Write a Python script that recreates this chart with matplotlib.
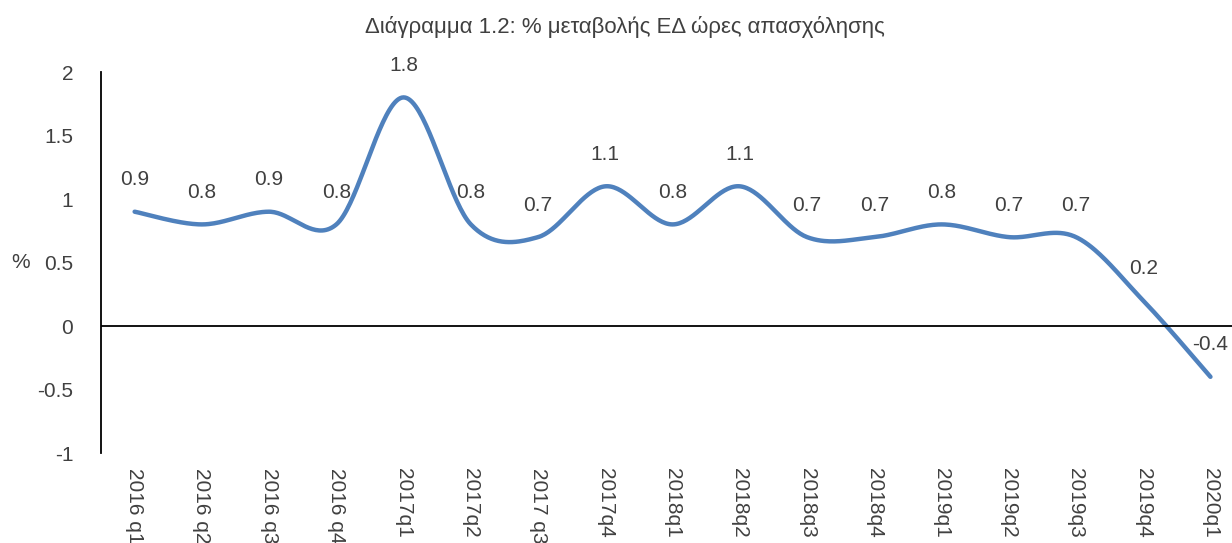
import matplotlib
matplotlib.use("Agg")
import matplotlib.pyplot as plt
import numpy as np

# quarters and % change in total hours worked
quarters = ["2016 q1", "2016 q2", "2016 q3", "2016 q4", "2017q1", "2017q2", "2017 q3",
            "2017q4", "2018q1", "2018q2", "2018q3", "2018q4", "2019q1", "2019q2",
            "2019q3", "2019q4", "2020q1"]
values = [0.9, 0.8, 0.9, 0.8, 1.8, 0.8, 0.7, 1.1, 0.8, 1.1, 0.7, 0.7, 0.8, 0.7, 0.7, 0.2, -0.4]

title = "Διάγραμμα 1.2: % μεταβολής ΕΔ ώρες απασχόλησης"


def smooth(x, y, n=40):
    # excel-like smoothed line: cubic bezier, control points from neighbours
    x = np.asarray(x, float)
    y = np.asarray(y, float)
    px = np.concatenate([[x[0]], x, [x[-1]]])
    py = np.concatenate([[y[0]], y, [y[-1]]])
    t = np.linspace(0, 1, n)[:, None]
    xs, ys = [], []
    for i in range(len(x) - 1):
        p0 = np.array([x[i], y[i]])
        p3 = np.array([x[i + 1], y[i + 1]])
        p1 = p0 + (np.array([px[i + 2], py[i + 2]]) - np.array([px[i], py[i]])) / 6
        p2 = p3 - (np.array([px[i + 3], py[i + 3]]) - np.array([px[i + 1], py[i + 1]])) / 6
        b = ((1 - t) ** 3) * p0 + 3 * ((1 - t) ** 2) * t * p1 + 3 * (1 - t) * t ** 2 * p2 + t ** 3 * p3
        xs.append(b[:, 0])
        ys.append(b[:, 1])
    return np.concatenate(xs), np.concatenate(ys)


plt.rcParams["font.family"] = ["Liberation Sans", "DejaVu Sans"]

fig = plt.figure(figsize=(12.32, 5.43), dpi=100)
ax = fig.add_axes([0.082, 0.1657, 0.9278, 0.7017])

x = np.arange(len(quarters))
sx, sy = smooth(x, values)
ax.plot(sx, sy, color="#4f81bd", lw=3.2, solid_capstyle="round", clip_on=False)

for xi, v in zip(x, values):
    ax.annotate(f"{v:g}", (xi, v), xytext=(0, 23), textcoords="offset points",
                ha="center", va="center", fontsize=15, color="#404040")

ax.axhline(0, color="black", lw=1.3)

ax.set_xlim(-0.5, len(quarters) - 0.5)
ax.set_ylim(-1, 2)
ax.set_yticks([-1, -0.5, 0, 0.5, 1, 1.5, 2])
ax.set_yticklabels(["-1", "-0.5", "0", "0.5", "1", "1.5", "2"])
ax.set_xticks(x)
ax.set_xticklabels(quarters, rotation=270, va="top", ha="center")
ax.tick_params(axis="both", length=0, labelsize=15, colors="#404040")
ax.tick_params(axis="y", pad=20)
ax.tick_params(axis="x", pad=11)

for s in ["top", "right", "bottom"]:
    ax.spines[s].set_visible(False)
ax.spines["left"].set_color("black")
ax.spines["left"].set_linewidth(1.3)

ax.set_ylabel("%", rotation=0, fontsize=15, color="#404040", labelpad=12, va="center")

fig.text(0.507, 0.95, title, ha="center", va="center", fontsize=16, color="#404040")

fig.savefig("out.png", dpi=100)
